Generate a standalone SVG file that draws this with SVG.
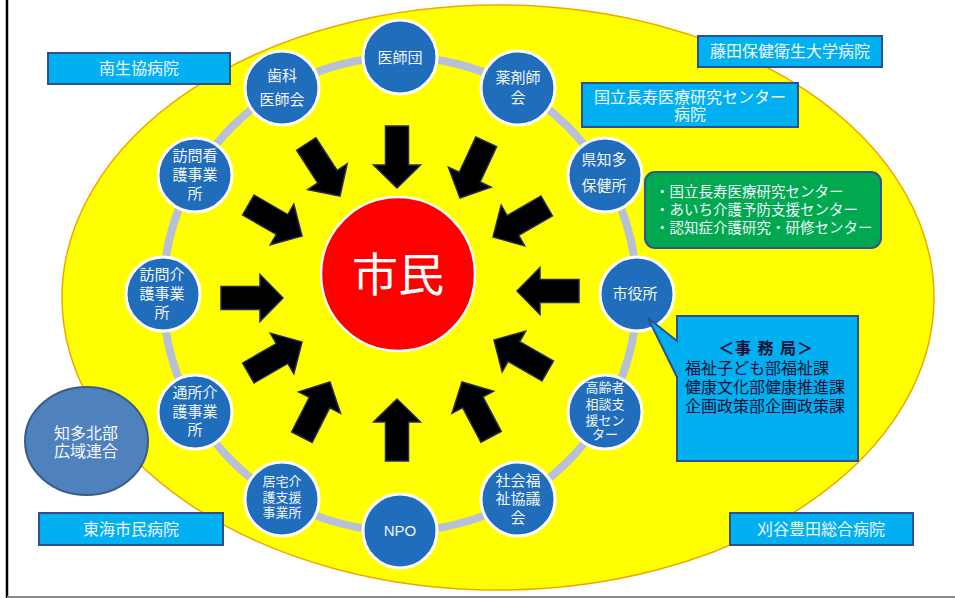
<svg xmlns="http://www.w3.org/2000/svg" width="955" height="598" viewBox="0 0 955 598">
<defs>
<style>
text{font-family:"Liberation Sans","Noto Sans CJK JP",sans-serif;}
.node{fill:#1f6dbb;stroke:#ffffff;stroke-width:3;}
.nt{fill:#f2f6fc;font-size:15px;text-anchor:middle;}
.ns{font-size:13px;}
.box{fill:#00b0f0;stroke:#2f4f8f;stroke-width:2;}
.bt{fill:#f4f8ff;font-size:16px;text-anchor:middle;}
.arrow{fill:#000000;stroke:#262a5e;stroke-width:1.5;stroke-linejoin:miter;}
.dt{fill:#111133;font-size:16px;}
</style>
<path id="arr" d="M-62,-11.5 H-23 V-23.5 L0,0 L-23,23.5 V11.5 H-62 Z"/>
</defs>
<rect x="0" y="0" width="955" height="598" fill="#ffffff"/>
<line x1="7" y1="0" x2="7" y2="598" stroke="#000000" stroke-width="2.5"/>
<line x1="7" y1="597" x2="955" y2="597" stroke="#8a8a8a" stroke-width="2"/>

<g id="background">
<ellipse cx="498" cy="297.5" rx="436" ry="292.5" fill="#ffff00" stroke="#f0a800" stroke-width="1.5"/>
<circle cx="400" cy="294" r="237" fill="none" stroke="#b8bfd9" stroke-width="8"/>
</g>

<g id="connectors">
<use href="#arr" class="arrow" transform="translate(397,188) rotate(90)"/>
<use href="#arr" class="arrow" transform="translate(460,198) rotate(115)"/>
<use href="#arr" class="arrow" transform="translate(493,237) rotate(150)"/>
<use href="#arr" class="arrow" transform="translate(517,291) rotate(180)"/>
<use href="#arr" class="arrow" transform="translate(494,340) rotate(210)"/>
<use href="#arr" class="arrow" transform="translate(462,382) rotate(242)"/>
<use href="#arr" class="arrow" transform="translate(397,399) rotate(270)"/>
<use href="#arr" class="arrow" transform="translate(330,382) rotate(297)"/>
<use href="#arr" class="arrow" transform="translate(302,342) rotate(330)"/>
<use href="#arr" class="arrow" transform="translate(283,298) rotate(0)"/>
<use href="#arr" class="arrow" transform="translate(302,236) rotate(30)"/>
<use href="#arr" class="arrow" transform="translate(340,196) rotate(57)"/>
</g>

<g id="shimin">
<circle cx="398" cy="274" r="77" fill="#ff0000" stroke="#ffffff" stroke-width="2.5"/>
<text x="398" y="291" fill="#ffffff" font-size="46" text-anchor="middle">市民</text>
</g>

<g id="ishidan"><circle class="node" cx="400" cy="57" r="37"/><text class="nt" x="400" y="62.5">医師団</text></g>
<g id="yakuzaishi"><circle class="node" cx="518" cy="88" r="37"/><text class="nt" y="82.5"><tspan x="518">薬剤師</tspan><tspan x="518" dy="20">会</tspan></text></g>
<g id="hokenjo"><circle class="node" cx="605" cy="175" r="37"/><text class="nt" y="164.5"><tspan x="604">県知多</tspan><tspan x="604" dy="26">保健所</tspan></text></g>
<g id="shiyakusho"><circle class="node" cx="637" cy="294" r="37"/><text class="nt" x="635" y="298.5">市役所</text></g>
<g id="koureisha"><circle class="node" cx="605" cy="412" r="37"/><text class="nt ns" y="391.7"><tspan x="605">高齢者</tspan><tspan x="605" dy="17">相談支</tspan><tspan x="605" dy="16">援セン</tspan><tspan x="605" dy="14.5">ター</tspan></text></g>
<g id="shakyo"><circle class="node" cx="518" cy="499" r="37"/><text class="nt" y="485.5"><tspan x="518">社会福</tspan><tspan x="518" dy="18">祉協議</tspan><tspan x="518" dy="19">会</tspan></text></g>
<g id="npo"><circle class="node" cx="400" cy="531" r="37"/><text class="nt" x="400" y="536" font-size="14">NPO</text></g>
<g id="kyotaku"><circle class="node" cx="282" cy="499" r="37"/><text class="nt ns" y="485.7"><tspan x="282">居宅介</tspan><tspan x="282" dy="16">護支援</tspan><tspan x="282" dy="15">事業所</tspan></text></g>
<g id="tsusho"><circle class="node" cx="195" cy="412" r="37"/><text class="nt" y="397.5"><tspan x="195">通所介</tspan><tspan x="195" dy="19">護事業</tspan><tspan x="195" dy="18">所</tspan></text></g>
<g id="houmonkaigo"><circle class="node" cx="163" cy="294" r="37"/><text class="nt" y="279.5"><tspan x="162">訪問介</tspan><tspan x="162" dy="19">護事業</tspan><tspan x="162" dy="19">所</tspan></text></g>
<g id="houmonkango"><circle class="node" cx="195" cy="175" r="37"/><text class="nt" y="160.5"><tspan x="195">訪問看</tspan><tspan x="195" dy="19">護事業</tspan><tspan x="195" dy="19">所</tspan></text></g>
<g id="shika"><circle class="node" cx="282" cy="88" r="37"/><text class="nt" y="80.5"><tspan x="282">歯科</tspan><tspan x="282" dy="24">医師会</tspan></text></g>

<g id="minami"><rect class="box" x="48" y="53" width="182" height="31"/><text class="bt" x="139" y="74">南生協病院</text></g>
<g id="fujita"><rect class="box" x="698" y="36" width="184" height="31"/><text class="bt" x="790" y="57">藤田保健衛生大学病院</text></g>
<g id="choju"><rect class="box" x="582" y="83" width="216" height="44"/><text class="bt" y="102.5" font-size="15"><tspan x="690">国立長寿医療研究センター</tspan><tspan x="690" dy="17">病院</tspan></text></g>
<g id="green"><rect x="645" y="172" width="236" height="76" rx="10" fill="#00a84f" stroke="#2f5597" stroke-width="2"/>
<text fill="#f4f8ff" font-size="14.5" y="197"><tspan x="655">・国立長寿医療研究センター</tspan><tspan x="655" dy="18">・あいち介護予防支援センター</tspan><tspan x="655" dy="18">・認知症介護研究・研修センター</tspan></text></g>
<g id="jimukyoku"><path d="M677,316 H858 V461 H677 V377 L648,318 L677,341 Z" fill="#00b0f0" stroke="#2f4f8f" stroke-width="2"/>
<text class="dt" y="354"><tspan x="766" text-anchor="middle" font-weight="bold" letter-spacing="1">＜事 務 局＞</tspan><tspan x="685" dy="20">福祉子ども部福祉課</tspan><tspan x="685" dy="19">健康文化部健康推進課</tspan><tspan x="685" dy="19">企画政策部企画政策課</tspan></text></g>
<g id="kariya"><rect class="box" x="730" y="513" width="183" height="32"/><text class="bt" x="821" y="535">刈谷豊田総合病院</text></g>
<g id="tokai"><rect class="box" x="39" y="513" width="184" height="32"/><text class="bt" x="131" y="535">東海市民病院</text></g>
<g id="chita"><ellipse cx="86.5" cy="441" rx="61.5" ry="54" fill="#4f81bd" stroke="#385d8a" stroke-width="2"/><text class="bt" y="439"><tspan x="86">知多北部</tspan><tspan x="86" dy="18">広域連合</tspan></text></g>
</svg>
